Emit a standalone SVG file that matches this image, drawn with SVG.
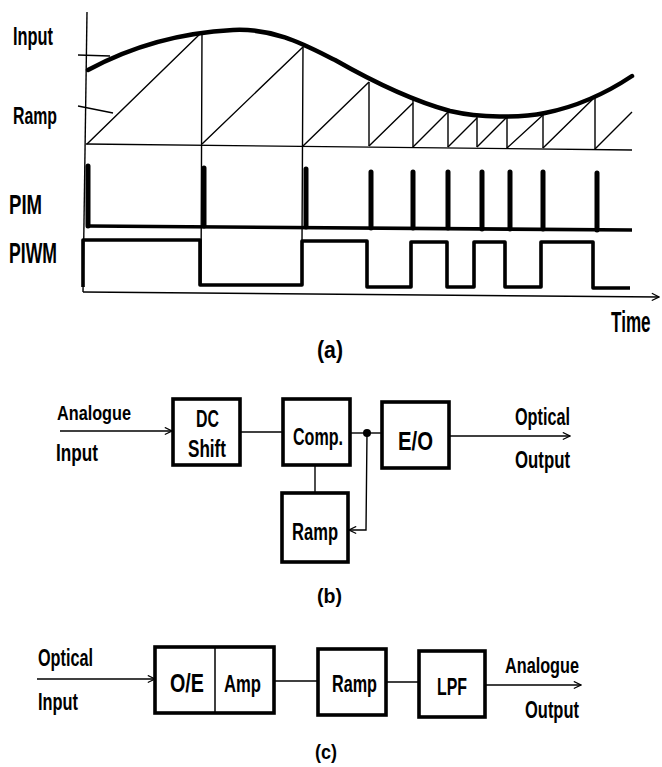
<svg xmlns="http://www.w3.org/2000/svg" width="662" height="767" viewBox="0 0 662 767">
<style>
text{font-family:"Liberation Sans","DejaVu Sans",sans-serif;fill:#000;font-weight:bold}
.thin{fill:none;stroke:#000;stroke-width:1.4}
.box{fill:#fff;stroke:#000;stroke-width:3.6}
.thick{fill:none;stroke:#000;stroke-width:3.6;stroke-linejoin:round}
.pulse{stroke:#000;stroke-width:5;stroke-linecap:round}
</style>
<defs>
<marker id="arr" viewBox="0 0 10 10" refX="9" refY="5" markerWidth="9" markerHeight="9" markerUnits="userSpaceOnUse" orient="auto">
<path d="M1,1 L9,5 L1,9" fill="none" stroke="#000" stroke-width="1.3"/>
</marker>
</defs>
<rect width="662" height="767" fill="#fff"/>

<g id="waveforms">
<path class="thin" d="M87,12 L83,292"/>
<path class="thin" d="M83,292 L659,297" marker-end="url(#arr)"/>
<path class="thin" d="M86,144 L632,150"/>
<path class="thin" d="M78,55 L110,56"/>
<path class="thin" d="M78,106 L113,113"/>
<path d="M88,70 C125,50 175,33 233,30 C275,28 305,45 335,60 C370,80 410,100 450,111 C480,118 520,118 545,113 C575,107 605,94 632,76" fill="none" stroke="#000" stroke-width="4.5" stroke-linecap="round"/>
<path class="thin" d="M87,144 L202,32 M202,144 L303,47 M303,146 L369,82 M369,146 L413,103 M413,147 L448,112 M448,147 L477,118 M477,147 L507,117 M507,148 L543,115 M543,148 L595,97 M595,149 L632,112"/>
<path class="thin" d="M202,31 L201,286 M303,47 L302,242 M369,82 V146 M413,100 V147 M448,112 V147 M477,115 V147 M507,116 V148 M543,114 V148 M595,97 V149"/>
<path class="thick" stroke-width="4" d="M88,226 L632,230"/>
<path class="pulse" d="M88,166 V226 M204,168 V226 M306,169 V227 M371,172 V228 M413,172 V228 M448,172 V228 M482,172 V229 M510,172 V229 M543,172 V229 M597,173 V230"/>
<path class="thick" d="M83,287 V240 H200 V285 H302 V241 H367 V287 H411 V242 H447 V287 H474 V242 H505 V287 H541 V242 H593 V288 H630"/>
<text x="13" y="45" font-size="26" textLength="40" lengthAdjust="spacingAndGlyphs">Input</text>
<text x="13" y="124" font-size="24" textLength="44" lengthAdjust="spacingAndGlyphs">Ramp</text>
<text x="9" y="214" font-size="28" textLength="33" lengthAdjust="spacingAndGlyphs">PIM</text>
<text x="9" y="263" font-size="29" textLength="48" lengthAdjust="spacingAndGlyphs">PIWM</text>
<text transform="translate(611,332) scale(0.59,1)" font-size="29">Time</text>
<text x="317" y="358" font-size="24" textLength="26" lengthAdjust="spacingAndGlyphs">(a)</text>
</g>

<g id="connectors">
<path class="thin" d="M60,431 L172,431" marker-end="url(#arr)"/>
<path class="thin" d="M240,432 L283,432"/>
<path class="thin" d="M315,465 L315,493"/>
<path class="thin" d="M350,433 L382,433"/>
<path class="thin" d="M367,433 L366,530 L349,530" marker-end="url(#arr)"/>
<path class="thin" d="M449,436 L570,436" marker-end="url(#arr)"/>
<circle cx="367" cy="433" r="4" fill="#000"/>
<path class="thin" d="M37,679 L155,679" marker-end="url(#arr)"/>
<path class="thin" d="M274,681 L318,681"/>
<path class="thin" d="M386,682 L419,682"/>
<path class="thin" d="M485,685 L581,685" marker-end="url(#arr)"/>
</g>

<g id="labels-b">
<text x="57" y="420" font-size="21" textLength="74" lengthAdjust="spacingAndGlyphs">Analogue</text>
<text x="56" y="461" font-size="24" textLength="42" lengthAdjust="spacingAndGlyphs">Input</text>
<text x="515" y="425" font-size="24" textLength="55" lengthAdjust="spacingAndGlyphs">Optical</text>
<text x="515" y="468" font-size="24" textLength="55" lengthAdjust="spacingAndGlyphs">Output</text>
<text x="317" y="603" font-size="21" textLength="25" lengthAdjust="spacingAndGlyphs">(b)</text>
</g>

<g id="dcshift">
<rect class="box" x="173" y="399" width="67" height="66"/>
<text x="196" y="427" font-size="24" textLength="23" lengthAdjust="spacingAndGlyphs">DC</text>
<text x="188" y="457" font-size="24" textLength="38" lengthAdjust="spacingAndGlyphs">Shift</text>
</g>
<g id="comp">
<rect class="box" x="283" y="399" width="67" height="66"/>
<text x="293" y="445" font-size="24" textLength="50" lengthAdjust="spacingAndGlyphs">Comp.</text>
</g>
<g id="ramp-b">
<rect class="box" x="282" y="493" width="66" height="69"/>
<text x="292" y="540" font-size="24" textLength="46" lengthAdjust="spacingAndGlyphs">Ramp</text>
</g>
<g id="eo">
<rect class="box" x="382" y="402" width="67" height="66"/>
<text x="398" y="450" font-size="26" textLength="35" lengthAdjust="spacingAndGlyphs">E/O</text>
</g>

<g id="labels-c">
<text x="38" y="666" font-size="24" textLength="55" lengthAdjust="spacingAndGlyphs">Optical</text>
<text x="38" y="710" font-size="24" textLength="40" lengthAdjust="spacingAndGlyphs">Input</text>
<text x="505" y="673" font-size="22" textLength="74" lengthAdjust="spacingAndGlyphs">Analogue</text>
<text x="525" y="718" font-size="24" textLength="54" lengthAdjust="spacingAndGlyphs">Output</text>
<text x="315" y="759" font-size="21" textLength="22" lengthAdjust="spacingAndGlyphs">(c)</text>
</g>

<g id="oe-amp">
<rect class="box" x="155" y="647" width="119" height="66"/>
<line x1="215" y1="647" x2="215" y2="713" stroke="#000" stroke-width="1.5"/>
<text x="170" y="692" font-size="26" textLength="34" lengthAdjust="spacingAndGlyphs">O/E</text>
<text x="224" y="692" font-size="24" textLength="37" lengthAdjust="spacingAndGlyphs">Amp</text>
</g>
<g id="ramp-c">
<rect class="box" x="318" y="649" width="68" height="66"/>
<text x="332" y="692" font-size="24" textLength="45" lengthAdjust="spacingAndGlyphs">Ramp</text>
</g>
<g id="lpf">
<rect class="box" x="419" y="651" width="66" height="66"/>
<text x="437" y="695" font-size="24" textLength="30" lengthAdjust="spacingAndGlyphs">LPF</text>
</g>
</svg>
